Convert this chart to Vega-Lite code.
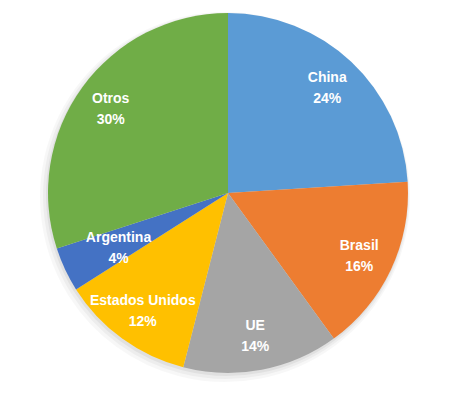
{
  "$schema": "https://vega.github.io/schema/vega-lite/v6.json",
  "width": 458,
  "height": 390,
  "autosize": {"type": "fit", "contains": "padding"},
  "padding": {"left": 1, "top": 0, "right": 3, "bottom": 4},
  "background": "white",
  "view": {"stroke": null},
  "data": {
    "values": [
      {"idx": 1, "category": "China", "value": 24},
      {"idx": 2, "category": "Brasil", "value": 16},
      {"idx": 3, "category": "UE", "value": 14},
      {"idx": 4, "category": "Estados Unidos", "value": 12},
      {"idx": 5, "category": "Argentina", "value": 4},
      {"idx": 6, "category": "Otros", "value": 30}
    ]
  },
  "transform": [
    {"stack": "value", "groupby": [], "sort": [{"field": "idx", "order": "ascending"}], "as": ["v0", "v1"]},
    {"calculate": "(datum.v0 + datum.v1) / 2", "as": "mid"},
    {"calculate": "datum.category + '\\n' + datum.value + '%'", "as": "label"}
  ],
  "layer": [
    {
      "mark": {"type": "arc", "outerRadius": 185, "fill": "#000000", "opacity": 0.03, "xOffset": -3, "yOffset": 4},
      "encoding": {"theta": {"field": "v0", "type": "quantitative", "scale": {"domain": [0, 100]}}, "theta2": {"field": "v1"}}
    },
    {
      "mark": {"type": "arc", "outerRadius": 183, "fill": "#000000", "opacity": 0.04, "xOffset": -2, "yOffset": 3},
      "encoding": {"theta": {"field": "v0", "type": "quantitative", "scale": {"domain": [0, 100]}}, "theta2": {"field": "v1"}}
    },
    {
      "mark": {"type": "arc", "outerRadius": 181, "fill": "#000000", "opacity": 0.05, "xOffset": -1, "yOffset": 2},
      "encoding": {"theta": {"field": "v0", "type": "quantitative", "scale": {"domain": [0, 100]}}, "theta2": {"field": "v1"}}
    },
    {
      "mark": {"type": "arc", "outerRadius": 180, "stroke": null},
      "encoding": {
        "theta": {"field": "v0", "type": "quantitative", "scale": {"domain": [0, 100]}},
        "theta2": {"field": "v1"},
        "color": {
          "field": "category",
          "type": "nominal",
          "scale": {
            "domain": ["China", "Brasil", "UE", "Estados Unidos", "Argentina", "Otros"],
            "range": ["#5B9BD5", "#ED7D31", "#A5A5A5", "#FFC000", "#4472C4", "#70AD47"]
          },
          "legend": null
        }
      }
    },
    {
      "transform": [{"filter": "datum.category != 'Argentina'"}],
      "mark": {"type": "text", "radius": 145, "dy": -9, "fontSize": 14, "fontWeight": "bold", "font": "Liberation Sans", "lineBreak": "\n", "lineHeight": 21, "baseline": "middle", "align": "center", "color": "white"},
      "encoding": {
        "theta": {"field": "mid", "type": "quantitative", "scale": {"domain": [0, 100]}},
        "text": {"field": "label", "type": "nominal"}
      }
    },
    {
      "transform": [{"filter": "datum.category == 'Argentina'"}],
      "mark": {"type": "text", "radius": 121, "dy": -7, "fontSize": 14, "fontWeight": "bold", "font": "Liberation Sans", "lineBreak": "\n", "lineHeight": 21, "baseline": "middle", "align": "center", "color": "white"},
      "encoding": {
        "theta": {"field": "mid", "type": "quantitative", "scale": {"domain": [0, 100]}},
        "text": {"field": "label", "type": "nominal"}
      }
    }
  ]
}
